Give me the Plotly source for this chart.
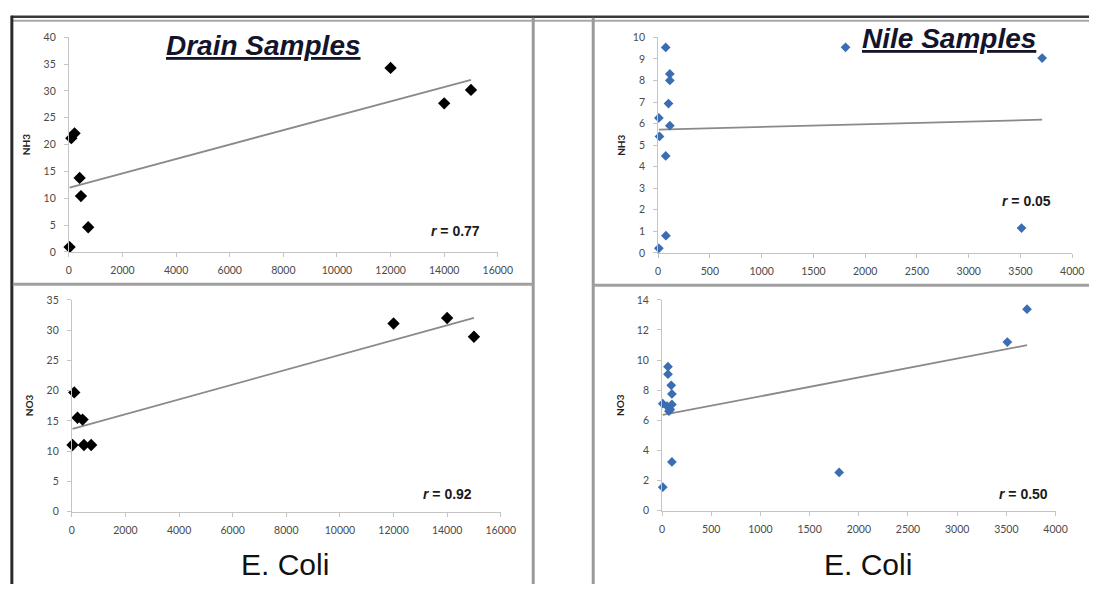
import numpy as np
import plotly.graph_objects as go

W, H = 1104, 590

# ---- data -------------------------------------------------------------
drain_ecoli = [25, 90, 210, 400, 450, 720, 12000, 14000, 15000]
drain_nh3 = [0.9, 21.2, 22.1, 13.8, 10.4, 4.6, 34.3, 27.7, 30.2]
drain_no3 = [11.0, 19.7, 15.5, 15.2, 11.0, 11.0, 31.1, 32.0, 28.9]

nile_ecoli_nh3 = [73, 1810, 3709, 113, 113, 100, 7, 113, 13, 73, 75, 7, 3510]
nile_nh3 = [9.53, 9.54, 9.04, 8.3, 8.0, 6.93, 6.26, 5.9, 5.4, 4.5, 0.8, 0.21, 1.15]

nile_ecoli_no3 = [3710, 3510, 1800, 100, 7, 60, 60, 93, 100, 7, 50, 83, 100, 70]
nile_no3 = [13.38, 11.2, 2.53, 3.23, 1.55, 9.56, 9.06, 8.32, 7.75, 7.1, 6.94, 6.72, 7.05, 6.6]

r_labels = ["0.77", "0.92", "0.05", "0.50"]


def px(x):
    return x / W


def py(y):
    return 1 - y / H


DRAIN_C = "#000000"
NILE_C = "#3b6db3"
TREND_C = "#8a8a8a"
AXIS_C = "#c4c4c4"
TICK_FONT = dict(family="Lato, Liberation Sans, sans-serif", size=10.5, color="#4a4a4a")

# panel layout: pixel positions of axis ranges
panels = [
    dict(n="", x=drain_ecoli, y=drain_nh3, c=DRAIN_C, ms=9.5,
         xpx=(67, 503), ypx=(251, 32), xr=(0, 16000), dx=2000, yr=(0, 40), dy=5,
         ytitle="NH3", ytx=23, r=r_labels[0], rpos=(460, 230)),
    dict(n="2", x=drain_ecoli, y=drain_no3, c=DRAIN_C, ms=9.5,
         xpx=(70, 506), ypx=(516, 300), xr=(0, 16000), dx=2000, yr=(0, 35), dy=5,
         ytitle="NO3", ytx=26, r=r_labels[1], rpos=(452, 498)),
    dict(n="3", x=nile_ecoli_nh3, y=nile_nh3, c=NILE_C, ms=7.5,
         xpx=(666, 1087), ypx=(252, 32), xr=(0, 4000), dx=500, yr=(0, 10), dy=1,
         ytitle="NH3", ytx=628, r=r_labels[2], rpos=(1040, 199)),
    dict(n="4", x=nile_ecoli_no3, y=nile_no3, c=NILE_C, ms=7.5,
         xpx=(670, 1070), ypx=(515, 300), xr=(0, 4000), dx=500, yr=(0, 14), dy=2,
         ytitle="NO3", ytx=627, r=r_labels[3], rpos=(1037, 498)),
]

fig = go.Figure()
annotations = []


def note(x, y, text, font, angle=0):
    annotations.append(dict(
        x=px(x), y=py(y), xref="paper", yref="paper", text=text, textangle=angle,
        showarrow=False, xanchor="center", yanchor="middle", font=font))


for p in panels:
    xa, ya = "x" + p["n"], "y" + p["n"]
    xs = np.array(p["x"], dtype=float)
    ys = np.array(p["y"], dtype=float)

    # linear trend line spanning the observed E. coli range
    k, b = np.polyfit(xs, ys, 1)
    tx = np.array([xs.min(), xs.max()])
    fig.add_trace(go.Scatter(
        x=tx, y=k * tx + b, mode="lines", xaxis=xa, yaxis=ya,
        line=dict(color=TREND_C, width=1.8), showlegend=False, hoverinfo="skip"))

    fig.add_trace(go.Scatter(
        x=xs, y=ys, mode="markers", xaxis=xa, yaxis=ya, cliponaxis=False,
        marker=dict(symbol="diamond", size=p["ms"], color=p["c"],
                    line=dict(width=0)),
        showlegend=False))

    common = dict(showline=True, linecolor=AXIS_C, linewidth=1, showgrid=False,
                  zeroline=False, ticks="outside", ticklen=4, tickcolor=AXIS_C,
                  tickwidth=1, tickfont=TICK_FONT, fixedrange=True, tickformat="d")
    fig.layout[("xaxis" + p["n"]) if p["n"] else "xaxis"] = dict(
        domain=[px(p["xpx"][0]), px(p["xpx"][1])], range=list(p["xr"]),
        tick0=0, dtick=p["dx"], anchor=ya, ticklabelstandoff=5, **common)
    fig.layout[("yaxis" + p["n"]) if p["n"] else "yaxis"] = dict(
        domain=[py(p["ypx"][0]), py(p["ypx"][1])], range=list(p["yr"]),
        tick0=0, dtick=p["dy"], anchor=xa, ticklabelstandoff=6, **common)

    # vertical axis title
    note(p["ytx"], (p["ypx"][0] + p["ypx"][1]) / 2, "<b>" + p["ytitle"] + "</b>",
         dict(family="Lato, Liberation Sans, sans-serif", size=10, color="#222222"), -90)

    # correlation coefficient
    note(p["rpos"][0], p["rpos"][1], "<b><i>r</i> = " + p["r"] + "</b>",
         dict(family="Liberation Sans, Arial, sans-serif", size=14, color="#1a1a1a"))

# panel headings
HEAD_FONT = dict(family="Liberation Sans, Arial, sans-serif", size=28, color="#14142c")
note(265, 40, "<b><i><u>Drain Samples</u></i></b>", HEAD_FONT)
note(962, 33, "<b><i><u>Nile Samples</u></i></b>", HEAD_FONT)

# shared horizontal axis titles
for cx in (287, 879):
    note(cx, 570, "E. Coli",
         dict(family="Liberation Sans, Arial, sans-serif", size=30, color="#111111"))

# frame lines around the panels
shapes = []


def hline(y, x0, x1, color, width):
    shapes.append(dict(type="line", xref="paper", yref="paper", layer="above",
                       x0=px(x0), x1=px(x1), y0=py(y), y1=py(y),
                       line=dict(color=color, width=width)))


def vline(x, y0, y1, color, width):
    shapes.append(dict(type="line", xref="paper", yref="paper", layer="above",
                       x0=px(x), x1=px(x), y0=py(y0), y1=py(y1),
                       line=dict(color=color, width=width)))


hline(11, 8, W, "#3a3a3a", 2.5)
hline(15, 10, W, "#a8a8a8", 2)
vline(9, 10, H, "#2a2a2a", 3)
vline(539, 12, H, "#9a9a9a", 3)
vline(600, 12, H, "#9a9a9a", 3)
hline(284, 10, 539, "#a0a0a0", 3)
hline(285, 600, W, "#a0a0a0", 3)

fig.update_layout(
    width=W, height=H, autosize=False,
    margin=dict(l=0, r=0, t=0, b=0),
    paper_bgcolor="white", plot_bgcolor="white",
    annotations=annotations, shapes=shapes,
)

fig.write_html("out.html")
